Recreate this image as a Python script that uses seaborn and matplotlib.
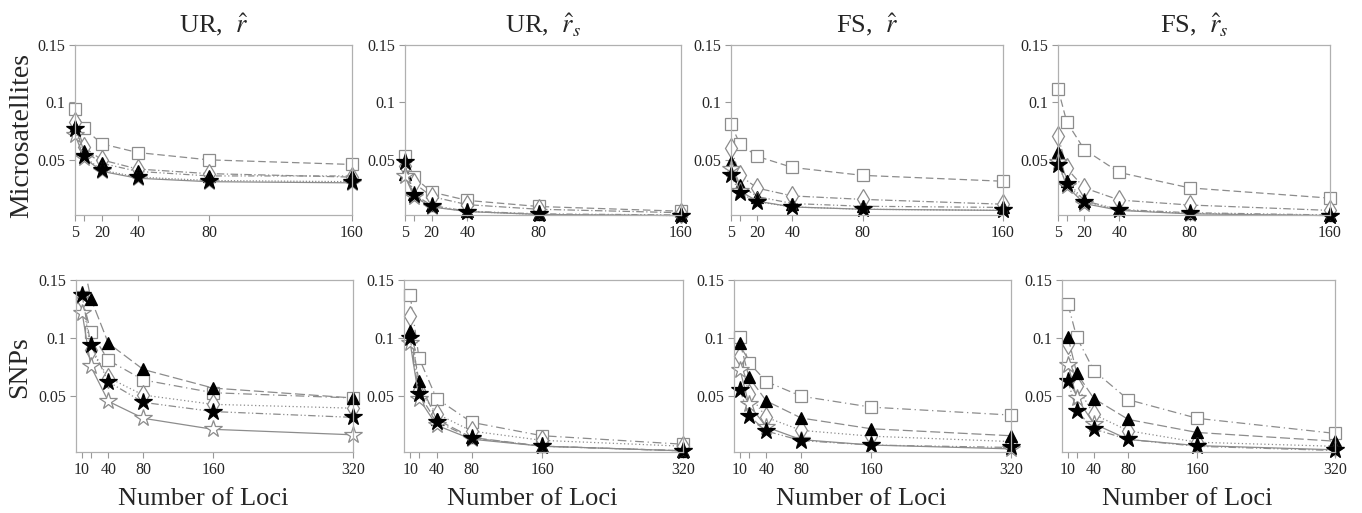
import matplotlib

matplotlib.use("Agg")
import matplotlib.pyplot as plt
import pandas as pd
import seaborn as sns
from matplotlib.patches import Rectangle

# x values (number of loci)
loci_ms = [5, 10, 20, 40, 80, 160]
loci_snp = [10, 20, 40, 80, 160, 320]
xtick_labels_ms = ["5", "", "20", "40", "80", "160"]
xtick_labels_snp = ["10", "", "40", "80", "160", "320"]
yticks = [0.05, 0.1, 0.15]
ytick_labels = ["0.05", "0.1", "0.15"]

titles = [r"UR,  $\hat{r}$", r"UR,  $\hat{r}_s$", r"FS,  $\hat{r}$", r"FS,  $\hat{r}_s$"]
row_labels = ["Microsatellites", "SNPs"]
xlabel = "Number of Loci"

# series order: square, diamond, filled triangle, open star, filled star
ms_ur_r = {
    "square": [0.094, 0.0775, 0.064, 0.0564, 0.050, 0.046],
    "diamond": [0.083, 0.061, 0.050, 0.042, 0.038, 0.035],
    "triangle": [0.079, 0.058, 0.047, 0.040, 0.036, 0.036],
    "open_star": [0.072, 0.052, 0.040, 0.034, 0.031, 0.030],
    "filled_star": [0.077, 0.053, 0.041, 0.035, 0.032, 0.031],
}
ms_ur_rs = {
    "square": [0.0535, 0.035, 0.022, 0.0147, 0.0094, 0.0053],
    "diamond": [0.045, 0.030, 0.018, 0.011, 0.007, 0.004],
    "triangle": [0.038, 0.020, 0.0103, 0.0053, 0.003, 0.002],
    "open_star": [0.036, 0.018, 0.009, 0.005, 0.0025, 0.0015],
    "filled_star": [0.0485, 0.019, 0.0094, 0.005, 0.0025, 0.0015],
}
ms_fs_r = {
    "square": [0.081, 0.064, 0.053, 0.0434, 0.0365, 0.0314],
    "diamond": [0.060, 0.0365, 0.0254, 0.0186, 0.0156, 0.0114],
    "triangle": [0.0485, 0.028, 0.018, 0.012, 0.0096, 0.0086],
    "open_star": [0.042, 0.023, 0.014, 0.009, 0.007, 0.006],
    "filled_star": [0.0365, 0.021, 0.0135, 0.009, 0.007, 0.006],
}
ms_fs_rs = {
    "square": [0.112, 0.083, 0.059, 0.039, 0.0256, 0.0167],
    "diamond": [0.071, 0.0426, 0.0256, 0.015, 0.0107, 0.006],
    "triangle": [0.0565, 0.032, 0.0143, 0.0068, 0.004, 0.002],
    "open_star": [0.048, 0.027, 0.012, 0.006, 0.003, 0.0015],
    "filled_star": [0.0455, 0.029, 0.0137, 0.0063, 0.0035, 0.0015],
}
snp_ur_r = {
    "square": [0.135, 0.105, 0.081, 0.064, 0.053, 0.0485],
    "diamond": [0.134, 0.090, 0.066, 0.051, 0.043, 0.0397],
    "triangle": [0.170, 0.134, 0.0956, 0.073, 0.057, 0.0485],
    "open_star": [0.122, 0.0756, 0.0456, 0.031, 0.0215, 0.0168],
    "filled_star": [0.137, 0.094, 0.0624, 0.0447, 0.0368, 0.0318],
}
snp_ur_rs = {
    "square": [0.137, 0.083, 0.048, 0.0275, 0.016, 0.0087],
    "diamond": [0.119, 0.055, 0.035, 0.020, 0.012, 0.007],
    "triangle": [0.106, 0.063, 0.030, 0.0145, 0.007, 0.003],
    "open_star": [0.096, 0.048, 0.025, 0.013, 0.007, 0.003],
    "filled_star": [0.100, 0.052, 0.028, 0.014, 0.007, 0.003],
}
snp_fs_r = {
    "square": [0.101, 0.079, 0.0626, 0.050, 0.0406, 0.0338],
    "diamond": [0.0847, 0.0518, 0.0318, 0.0206, 0.0156, 0.011],
    "triangle": [0.096, 0.0665, 0.0459, 0.0312, 0.022, 0.016],
    "open_star": [0.0724, 0.043, 0.0235, 0.0126, 0.008, 0.0047],
    "filled_star": [0.0553, 0.0332, 0.020, 0.0118, 0.008, 0.0059],
}
snp_fs_rs = {
    "square": [0.129, 0.101, 0.072, 0.047, 0.031, 0.018],
    "diamond": [0.095, 0.059, 0.0343, 0.0203, 0.0104, 0.0069],
    "triangle": [0.101, 0.070, 0.048, 0.030, 0.0188, 0.0113],
    "open_star": [0.077, 0.0487, 0.0263, 0.0128, 0.0075, 0.0039],
    "filled_star": [0.063, 0.0373, 0.0218, 0.0128, 0.0069, 0.0033],
}

GRAY = "#8c8c8c"
MARKERS = {
    "square": dict(marker="s", markersize=8, markerfacecolor="white", markeredgecolor=GRAY),
    "diamond": dict(marker="d", markersize=10, markerfacecolor="white", markeredgecolor=GRAY),
    "triangle": dict(marker="^", markersize=9, markerfacecolor="black", markeredgecolor="black"),
    "open_star": dict(marker="*", markersize=13, markerfacecolor="white", markeredgecolor=GRAY),
    "filled_star": dict(marker="*", markersize=13, markerfacecolor="black", markeredgecolor="black"),
}
DASHES_MS = {
    "square": (6, 3),
    "diamond": (6, 2, 1, 2),
    "triangle": (5, 2, 1, 2, 1, 2),
    "open_star": (None, None),
    "filled_star": (1, 1.5),
}
DASHES_SNP = {
    "square": (7, 3, 1, 3),
    "diamond": (1, 2),
    "triangle": (8, 3),
    "open_star": (None, None),
    "filled_star": (6, 2, 1, 2, 1, 2),
}

sns.set_style("white")
plt.rcParams["font.family"] = ["Liberation Serif", "DejaVu Serif"]
plt.rcParams["mathtext.fontset"] = "stix"

W, H = 1362, 513
fig = plt.figure(figsize=(W / 100, H / 100), dpi=100)

# axes boxes in pixels: (left, right), rows (top, bottom)
cols_top = [(75, 352), (405, 681), (731, 1003), (1058, 1330)]
cols_bot = [(76, 353), (404, 683), (734, 1011), (1062, 1335)]
rows = [(45, 215), (280, 452)]

panels = [
    [ms_ur_r, ms_ur_rs, ms_fs_r, ms_fs_rs],
    [snp_ur_r, snp_ur_rs, snp_fs_r, snp_fs_rs],
]


def draw_panel(ax, loci, data, dashes):
    for name, vals in data.items():
        df = pd.DataFrame({"loci": loci, "value": vals})
        sns.lineplot(
            data=df, x="loci", y="value", ax=ax, color=GRAY, linewidth=0.9,
            errorbar=None, markeredgewidth=0.9, **MARKERS[name],
        )
        line = ax.lines[-1]
        d = dashes[name]
        if d[0] is not None:
            line.set_dashes(d)
        line.set_clip_path(Rectangle((-0.05, -0.1), 1.1, 1.1, transform=ax.transAxes))


for r, (top, bot) in enumerate(rows):
    cols = cols_top if r == 0 else cols_bot
    loci = loci_ms if r == 0 else loci_snp
    for c, (left, right) in enumerate(cols):
        ax = fig.add_axes([left / W, 1 - bot / H, (right - left) / W, (bot - top) / H])
        draw_panel(ax, loci, panels[r][c], DASHES_MS if r == 0 else DASHES_SNP)
        if r == 0:
            ax.set_xlim(5, 160)
        else:
            ax.set_xlim(3, 320)
        ax.set_ylim(0.002, 0.15)
        ax.set_xticks(loci)
        ax.set_xticklabels(xtick_labels_ms if r == 0 else xtick_labels_snp)
        ax.set_yticks(yticks)
        ax.set_yticklabels(ytick_labels)
        ax.tick_params(direction="out", length=4, width=0.8, color="#999999",
                       labelsize=11.5, pad=3, bottom=True, left=True)
        for s in ax.spines.values():
            s.set_color("#b0b0b0")
            s.set_linewidth(0.9)
        ax.set_ylabel("")
        if r == 0:
            ax.set_xlabel("")
            ax.set_title(titles[c], fontsize=19, pad=9)
        else:
            ax.set_xlabel(xlabel, fontsize=19, labelpad=6)
            ax.xaxis.set_label_coords(0.46, -0.21)

fig.text(22 / W, 1 - 136 / H, row_labels[0], rotation=90, ha="center", va="center", fontsize=20)
fig.text(20 / W, 1 - 367 / H, row_labels[1], rotation=90, ha="center", va="center", fontsize=20)

fig.savefig("out.png", dpi=100)
